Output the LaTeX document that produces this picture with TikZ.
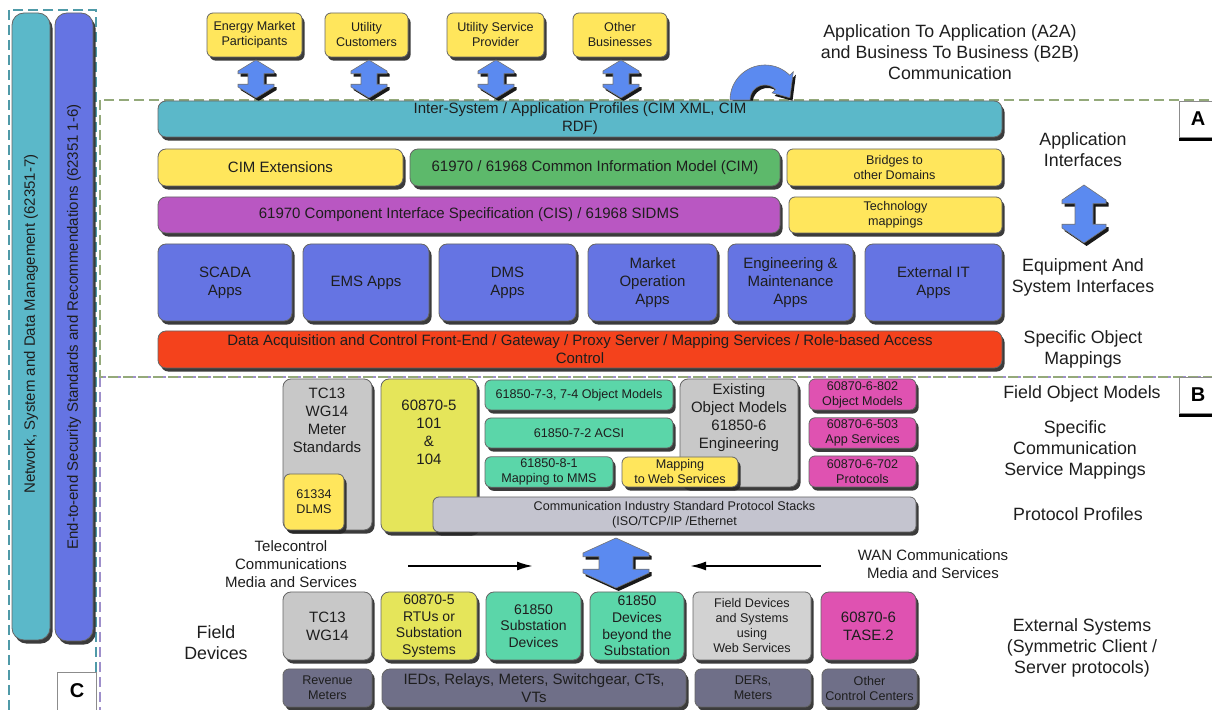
\documentclass[tikz,border=0pt]{standalone}
\usepackage{fontspec}
\setmainfont{Liberation Sans}
\usetikzlibrary{arrows.meta,shadows}
\definecolor{ink}{HTML}{1E1E1E}
\definecolor{tileyellow}{HTML}{FFE65C}
\definecolor{tileteal}{HTML}{5BB8C9}
\definecolor{tilegreen}{HTML}{5DB96B}
\definecolor{tilemagenta}{HTML}{B957C2}
\definecolor{appblue}{HTML}{6574E3}
\definecolor{tilered}{HTML}{F4421C}
\definecolor{tilemint}{HTML}{5BD6A9}
\definecolor{tilegrey}{HTML}{C8C8C8}
\definecolor{tilelight}{HTML}{D2D2D2}
\definecolor{tileolive}{HTML}{E5E55A}
\definecolor{tilepink}{HTML}{DF52B1}
\definecolor{tilestack}{HTML}{C4C4CF}
\definecolor{tileslate}{HTML}{6F6F88}
\definecolor{arrowblue}{HTML}{5B8AF0}
\definecolor{dashgreen}{HTML}{94A97A}
\definecolor{dashpurple}{HTML}{9E8FCB}
\definecolor{dashteal}{HTML}{4F9AA8}
\newcommand{\boxfont}{\fontsize{7.5}{9}\selectfont}
\newcommand{\smallfont}{\fontsize{6.3}{7.5}\selectfont}
\newcommand{\rowfont}{\fontsize{7}{8.3}\selectfont}
\newcommand{\notefont}{\fontsize{8.9}{10.5}\selectfont}
\tikzset{
  tile/.style={draw=black!60,line width=.4pt,rounded corners=4pt,align=center,inner sep=1pt,
    font=\boxfont,text=ink,
    drop shadow={shadow xshift=1.3pt,shadow yshift=-1.8pt,fill=black!85,opacity=.9}},
  minitile/.style={tile,rounded corners=3pt,font=\smallfont},
  rowtile/.style={tile,font=\rowfont},
  note/.style={align=center,font=\notefont,text=ink,inner sep=0pt},
  region/.style={dash pattern=on 5pt off 2.5pt,line width=1pt},
  badge/.style={draw=black!45,fill=white,line width=.4pt,font=\bfseries\fontsize{10}{12}\selectfont,
    drop shadow={shadow xshift=0pt,shadow yshift=-2pt,fill=black,opacity=1}},
  dual/.style={fill=arrowblue,draw=black!55,line width=.3pt,
    drop shadow={shadow xshift=1.3pt,shadow yshift=-1.5pt,fill=black,opacity=.9}},
  flow/.style={-{Latex[length=8pt,width=4.5pt]},line width=1pt,draw=black}
}
% tile from corner (#2,#3) to corner (#4,#5), in pixels
\newcommand{\tilebox}[7]{%
  \node[#6,minimum width={(#4-#2)*.5pt},minimum height={(#5-#3)*.5pt}] (#1)
    at ({(#2+#4)/2},{(#3+#5)/2}) {#7};
}
% two-headed block arrow: centre x, top, bottom, half width, half neck, head
\newcommand{\dualarrow}[6]{%
  \path[dual] (#1,#2) -- ({#1+#4},{#2+#6}) -- ({#1+#4},{#2+1.25*#6}) -- ({#1+#5},{#2+1.25*#6})
    -- ({#1+#5},{#3-1.25*#6}) -- ({#1+#4},{#3-1.25*#6}) -- ({#1+#4},{#3-#6}) -- (#1,#3)
    -- ({#1-#4},{#3-#6}) -- ({#1-#4},{#3-1.25*#6}) -- ({#1-#5},{#3-1.25*#6})
    -- ({#1-#5},{#2+1.25*#6}) -- ({#1-#4},{#2+1.25*#6}) -- ({#1-#4},{#2+#6}) -- cycle;
}
\begin{document}
\begin{tikzpicture}[x=.5pt,y=-.5pt]
  \useasboundingbox (0,0) rectangle (1212,710);
  \clip (0,0) rectangle (1212,710);

  % Dashed groups.
  \draw[region,draw=dashteal] (9,10) rectangle (96,740);
  \draw[region,draw=dashpurple] (100,377) rectangle (1240,740);
  \draw[region,draw=dashgreen] (100,100) rectangle (1240,377);

  % Cross-cutting standards.
  \tilebox{netbar}{12}{13}{50}{640}{tile,fill=tileteal,rounded corners=6pt}{}
  \tilebox{secbar}{55}{13}{93}{641}{tile,fill=appblue,rounded corners=6pt}{}
  \node[note,font=\boxfont,rotate=90] (nettext) at (31,324)
    {Network, System and Data Management (62351-7)};
  \node[note,font=\boxfont,rotate=90] (sectext) at (74,327)
    {End-to-end Security Standards and Recommendations (62351 1-6)};

  % Business partners.
  \tilebox{energy}{207}{13}{302}{57}{minitile,fill=tileyellow}{Energy Market\\Participants}
  \tilebox{customers}{325}{13}{408}{57}{minitile,fill=tileyellow}{Utility\\Customers}
  \tilebox{provider}{447}{13}{544}{57}{minitile,fill=tileyellow}{Utility Service\\Provider}
  \tilebox{business}{573}{13}{667}{57}{minitile,fill=tileyellow}{Other\\Businesses}
  \dualarrow{256}{60}{98}{18}{8}{11}
  \dualarrow{369}{60}{98}{18}{8}{11}
  \dualarrow{496}{60}{98}{18}{8}{11}
  \dualarrow{621}{60}{98}{18}{8}{11}
  \path[dual] (730,100) arc[start angle=180,end angle=315,radius=35] -- (793.3,71.7)
    -- (789.9,97.8) -- (772.1,92.9) -- (775.6,89.4)
    arc[start angle=315,end angle=180,radius=15] -- cycle;

  % A: application interfaces.
  \tilebox{profiles}{158}{101}{1002}{137}{tile,fill=tileteal}
    {Inter-System / Application Profiles (CIM XML, CIM\\RDF)}
  \tilebox{cimext}{158}{149}{403}{186}{tile,fill=tileyellow}{CIM Extensions}
  \tilebox{cim}{410}{149}{780}{186}{tile,fill=tilegreen}
    {61970 / 61968 Common Information Model (CIM)}
  \tilebox{bridges}{787}{149}{1002}{186}{minitile,fill=tileyellow}{Bridges to\\other Domains}
  \tilebox{cis}{158}{197}{780}{233}{tile,fill=tilemagenta}
    {61970 Component Interface Specification (CIS) / 61968 SIDMS}
  \tilebox{techmap}{789}{197}{1002}{233}{minitile,fill=tileyellow}{Technology\\mappings}
  \tilebox{scada}{158}{244}{292}{321}{tile,fill=appblue}{SCADA\\Apps}
  \tilebox{ems}{303}{244}{429}{321}{tile,fill=appblue}{EMS Apps}
  \tilebox{dms}{439}{244}{576}{321}{tile,fill=appblue}{DMS\\Apps}
  \tilebox{market}{588}{244}{717}{321}{tile,fill=appblue}{Market\\Operation\\Apps}
  \tilebox{engmaint}{728}{244}{853}{321}{tile,fill=appblue}{Engineering \&\\Maintenance\\Apps}
  \tilebox{extit}{865}{244}{1002}{321}{tile,fill=appblue}{External IT\\Apps}
  \tilebox{frontend}{158}{331}{1002}{368}{tile,fill=tilered}
    {Data Acquisition and Control Front-End / Gateway / Proxy Server / Mapping Services / Role-based Access\\Control}

  % B: field object models and protocols.
  \tilebox{tcmeter}{283}{379}{372}{530}{tile,fill=tilegrey}{}
  \node[note,font=\boxfont] (tcmetertext) at (327,420) {TC13\\WG14\\Meter\\Standards};
  \tilebox{dlms}{284}{474}{344}{530}{minitile,fill=tileyellow}{61334\\DLMS}
  \tilebox{iec101}{381}{379}{477}{532}{tile,fill=tileolive}{}
  \node[note,font=\boxfont] (iec101text) at (429,432) {60870-5\\101\\\&\\104};
  \tilebox{objmodels}{485}{380}{673}{410}{minitile,fill=tilemint}{61850-7-3, 7-4 Object Models}
  \tilebox{acsi}{485}{418}{673}{448}{minitile,fill=tilemint}{61850-7-2 ACSI}
  \tilebox{existing}{680}{379}{798}{487}{tile,fill=tilegrey}{}
  \node[note,font=\boxfont] (existingtext) at (739,418)
    {Existing\\Object Models\\61850-6\\Engineering};
  \tilebox{mms}{485}{457}{613}{487}{minitile,fill=tilemint}{61850-8-1\\Mapping to MMS}
  \tilebox{websvc}{622}{457}{738}{487}{minitile,fill=tileyellow}{Mapping\\to Web Services}
  \tilebox{tase802}{809}{379}{916}{410}{minitile,fill=tilepink}{60870-6-802\\Object Models}
  \tilebox{tase503}{809}{418}{916}{448}{minitile,fill=tilepink}{60870-6-503\\App Services}
  \tilebox{tase702}{809}{456}{916}{487}{minitile,fill=tilepink}{60870-6-702\\Protocols}
  \tilebox{stacks}{433}{497}{916}{532}{minitile,fill=tilestack}
    {Communication Industry Standard Protocol Stacks\\(ISO/TCP/IP /Ethernet}

  % Media between protocols and devices.
  \dualarrow{616}{538}{588}{33}{17}{15}
  \coordinate (telfrom) at (408,566);
  \coordinate (telto) at (533,566);
  \coordinate (wanfrom) at (821,566);
  \coordinate (wanto) at (690,566);
  \draw[flow] (telfrom) -- (telto);
  \draw[flow] (wanfrom) -- (wanto);
  \node[note,font=\boxfont] (telecontrol) at (291,564)
    {Telecontrol\\Communications\\Media and Services};
  \node[note,font=\boxfont] (wan) at (933,564) {WAN Communications\\Media and Services};

  % Devices and external systems.
  \tilebox{tcwg}{283}{592}{372}{660}{tile,fill=tilegrey}{TC13\\WG14}
  \tilebox{rtu}{381}{592}{477}{660}{rowtile,fill=tileolive}{60870-5\\RTUs or\\Substation\\Systems}
  \tilebox{substation}{486}{592}{581}{660}{rowtile,fill=tilemint}{61850\\Substation\\Devices}
  \tilebox{beyond}{590}{592}{684}{660}{rowtile,fill=tilemint}{61850\\Devices\\beyond the\\Substation}
  \tilebox{webdev}{693}{592}{811}{660}{minitile,fill=tilelight}
    {Field Devices\\and Systems\\using\\Web Services}
  \tilebox{tase2}{821}{592}{916}{660}{tile,fill=tilepink}{60870-6\\TASE.2}
  \tilebox{revenue}{283}{669}{372}{707}{minitile,fill=tileslate}{Revenue\\Meters}
  \tilebox{ieds}{382}{669}{686}{707}{tile,fill=tileslate}{IEDs, Relays, Meters, Switchgear, CTs,\\VTs}
  \tilebox{ders}{695}{669}{811}{707}{minitile,fill=tileslate}{DERs,\\Meters}
  \tilebox{centers}{822}{669}{917}{707}{minitile,fill=tileslate}{Other\\Control Centers}
  \node[note] (fielddev) at (216,643) {Field\\Devices};

  % Layer names on the right.
  \node[note] (a2a) at (950,52)
    {Application To Application (A2A)\\and Business To Business (B2B)\\Communication};
  \node[note] (appif) at (1083,150) {Application\\Interfaces};
  \dualarrow{1084}{185}{243}{22}{9}{15}
  \node[note] (equip) at (1083,277) {Equipment And\\System Interfaces};
  \node[note] (objmap) at (1083,349) {Specific Object\\Mappings};
  \node[note] (fieldobj) at (1082,394) {Field Object Models};
  \node[note] (svcmap) at (1075,450) {Specific\\Communication\\Service Mappings};
  \node[note] (protprof) at (1078,514) {Protocol Profiles};
  \node[note] (extsys) at (1082,648)
    {External Systems\\(Symmetric Client /\\Server protocols)};

  % Group tags.
  \node[badge,minimum width=19pt,minimum height=18pt] (tagA) at (1198,119) {A};
  \node[badge,minimum width=19pt,minimum height=18pt] (tagB) at (1198,395) {B};
  \node[badge,minimum width=19.5pt,minimum height=19pt] (tagC) at (77,691) {C};
\end{tikzpicture}
\end{document}
